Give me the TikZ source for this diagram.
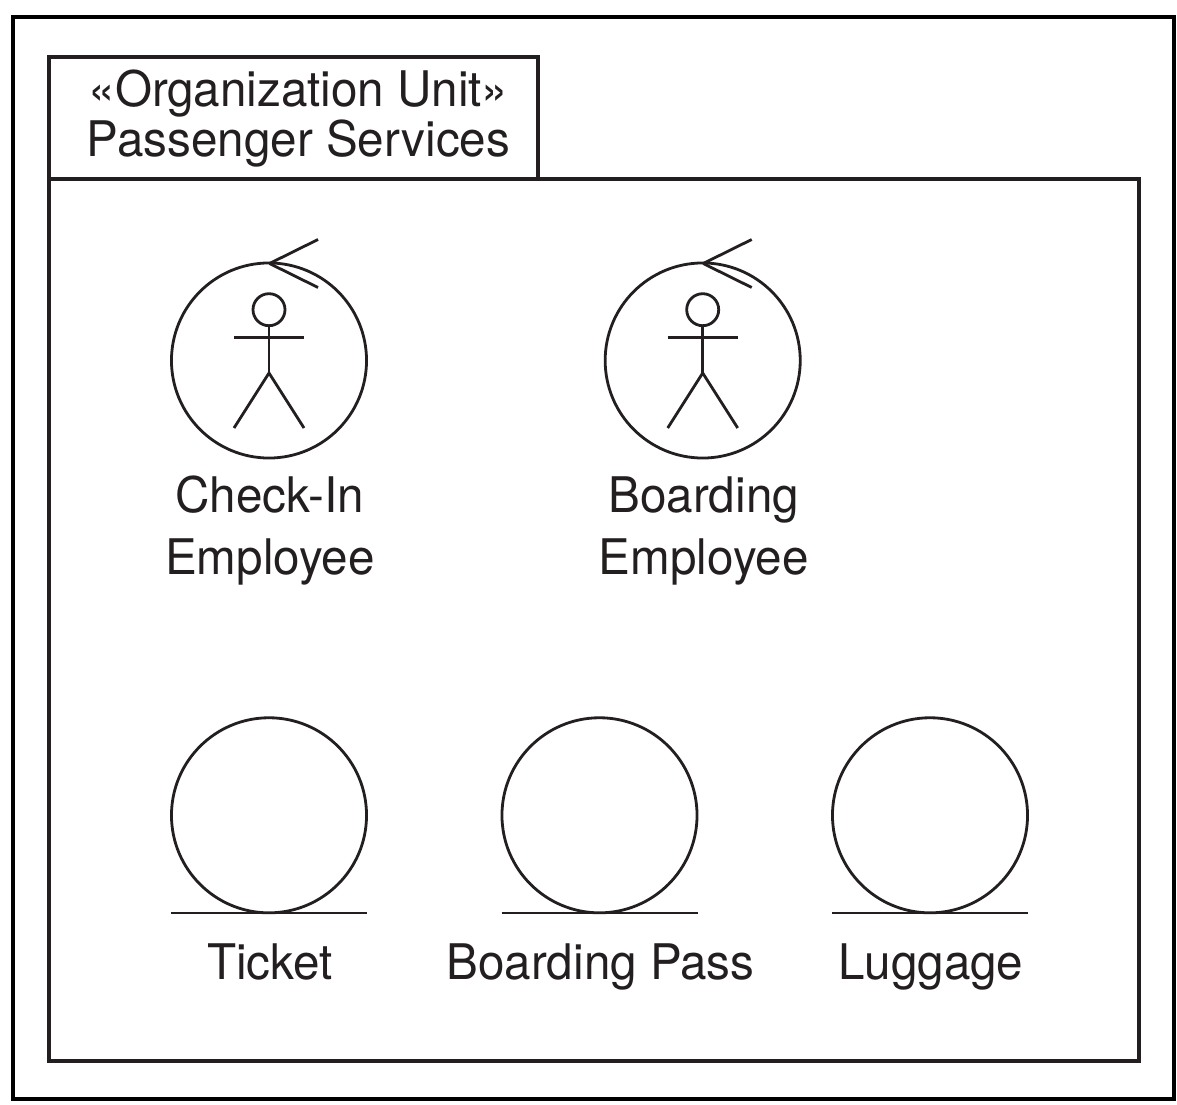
\documentclass[tikz,border=0pt]{standalone}
\usepackage{fontspec}
\setmainfont[FakeStretch=0.97]{TeX Gyre Heros}
\definecolor{ink}{HTML}{231F20}
\tikzset{
 ln/.style={draw=ink,line width=2.1pt},
 armln/.style={draw=ink,line width=2.4pt},
 frameo/.style={draw=black,line width=3pt},
 framei/.style={draw=ink,line width=2.7pt},
 lab/.style={font=\fontsize{36.8pt}{46.5pt}\selectfont,align=center,text=ink,inner sep=0pt},
 titlelab/.style={font=\fontsize{36.8pt}{36.8pt}\selectfont,align=center,text=ink,inner sep=0pt},
 circ/.style={circle,draw=ink,line width=2.1pt,minimum size=146.3pt,inner sep=0pt},
 headc/.style={circle,draw=ink,line width=2.1pt,minimum size=24pt,inner sep=0pt}
}
\begin{document}
\begin{tikzpicture}[x=0.75pt,y=-0.75pt]
\useasboundingbox (0,0) rectangle (1177,1105);
\fill[white] (0,0) rectangle (1177,1105);
\draw[frameo] (12.5,17) rectangle (1173.5,1099);
\draw[framei] (49,179) rectangle (1139,1061);
\draw[framei] (49,179) -- (49,57) -- (538,57) -- (538,179);
\node[titlelab] (title) at (298.5,118.5) {«Organization Unit»\\Passenger Services};
% actors
\foreach \n/\x/\t in {a/269/{Check-In\\Employee},b/702.7/{Boarding\\Employee}}{
 \node[circ] (\n c) at (\x,360.5) {};
 \coordinate (\n t) at (\x+0.5,263.5);
 \draw[ln] (\n t) -- ++(48.5,-24);
 \draw[ln] (\n t) -- ++(48.5,24);
 \node[headc] (\n h) at (\x,309.7) {};
 \coordinate (\n hip) at (\x,373);
 \draw[ln] (\n h) -- (\n hip);
 \draw[armln] (\x-35,337.5) -- (\x+35,337.5);
 \draw[ln] (\x-35,428) -- (\n hip) -- (\x+35,428);
 \node[lab] (\n l) at (\x+1,530.5) {\t};
}
% entities
\foreach \n/\x/\t in {c/269/Ticket,d/599.5/Boarding Pass,e/930/Luggage}{
 \node[circ] (\n c) at (\x,815.3) {};
 \draw[ln] (\x-98,913) -- (\x+98,913);
 \node[lab,anchor=base] (\n l) at (\x+1,979) {\t};
}
\end{tikzpicture}
\end{document}
